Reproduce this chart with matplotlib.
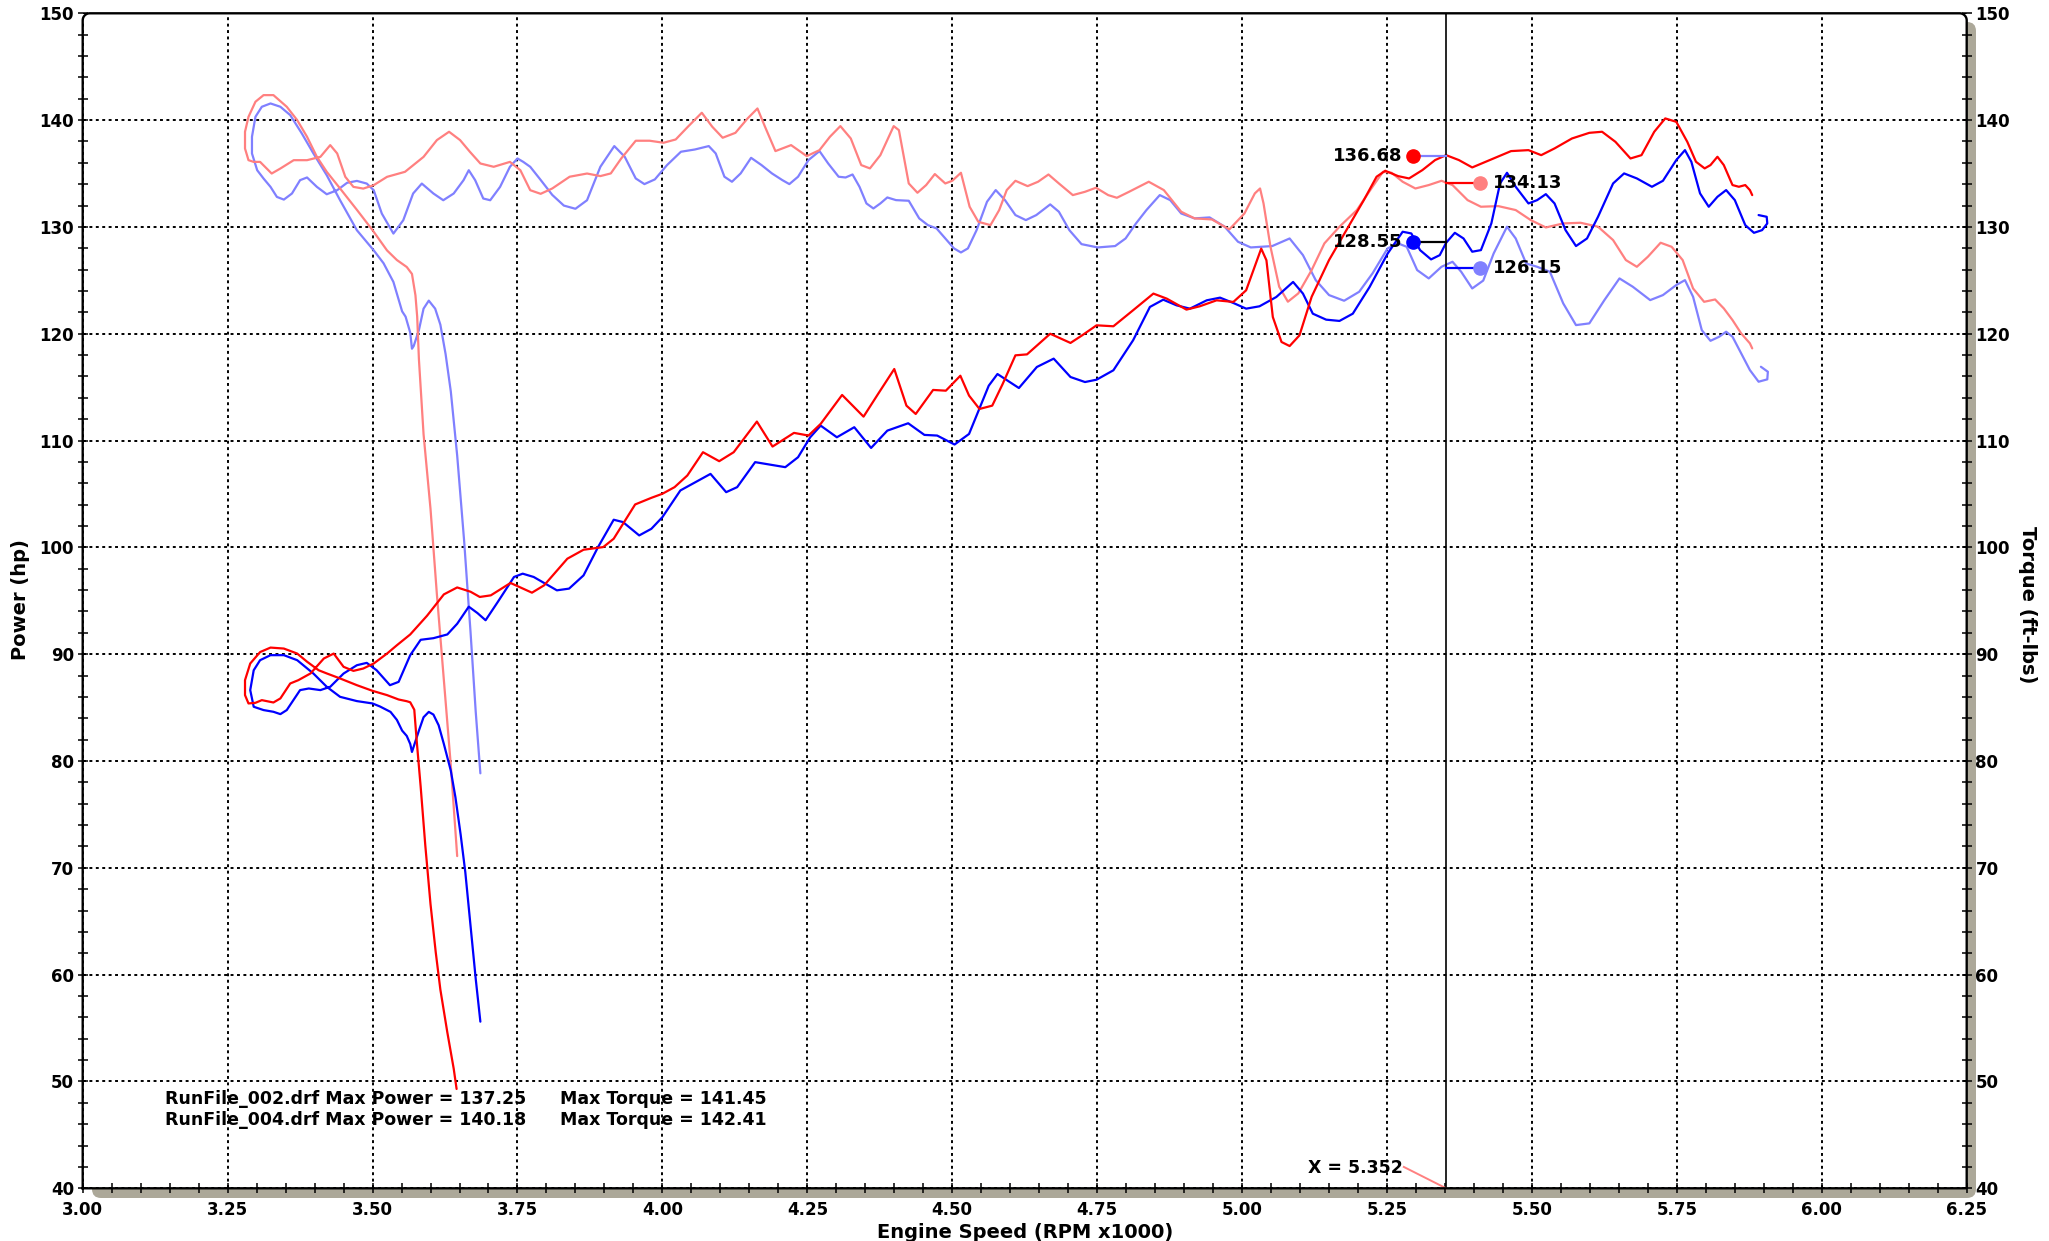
import numpy as np
import matplotlib
matplotlib.use("Agg")
import matplotlib.pyplot as plt
from matplotlib.ticker import MultipleLocator, FormatStrFormatter
from matplotlib.patches import FancyBboxPatch
from matplotlib.lines import Line2D

plt.rcParams['font.family'] = ['DejaVu Sans']
plt.rcParams['font.weight'] = 'bold'

# RunFile_004 power (red)
p004_rpm = [3.645, 3.640, 3.629, 3.617, 3.609, 3.600, 3.591, 3.583, 3.576, 3.572, 3.565, 3.559, 3.545, 3.525,
            3.500, 3.473, 3.444, 3.421, 3.407, 3.387, 3.370, 3.347, 3.324, 3.306, 3.289, 3.280, 3.280, 3.286,
            3.298, 3.309, 3.329, 3.341, 3.358, 3.372, 3.393, 3.416, 3.433, 3.450, 3.467, 3.484, 3.502, 3.525,
            3.542, 3.565, 3.594, 3.623, 3.646, 3.669, 3.685, 3.704, 3.738, 3.775, 3.796, 3.836, 3.864, 3.898,
            3.916, 3.953, 3.981, 4.000, 4.021, 4.043, 4.070, 4.098, 4.123, 4.163, 4.190, 4.227, 4.252, 4.273,
            4.310, 4.347, 4.372, 4.400, 4.421, 4.437, 4.467, 4.489, 4.514, 4.529, 4.547, 4.569, 4.587, 4.609,
            4.629, 4.669, 4.704, 4.724, 4.749, 4.778, 4.812, 4.847, 4.870, 4.904, 4.927, 4.956, 4.985, 5.007,
            5.033, 5.042, 5.053, 5.068, 5.082, 5.099, 5.120, 5.150, 5.180, 5.210, 5.232, 5.247, 5.269, 5.288,
            5.311, 5.333, 5.352, 5.374, 5.397, 5.427, 5.464, 5.494, 5.516, 5.539, 5.569, 5.599, 5.621, 5.644,
            5.670, 5.689, 5.711, 5.730, 5.749, 5.768, 5.783, 5.798, 5.808, 5.820, 5.831, 5.846, 5.857, 5.868,
            5.876, 5.880]
p004_hp = [49.3, 51.2, 54.6, 58.6, 62.1, 66.6, 72.1, 77.6, 82.0, 84.8, 85.5, 85.6, 85.76, 86.17,
           86.57, 87.10, 87.73, 88.20, 88.50, 89.30, 90.06, 90.53, 90.62, 90.20, 89.13, 87.57, 86.17, 85.39,
           85.45, 85.70, 85.48, 85.86, 87.26, 87.57, 88.20, 89.60, 90.06, 88.82, 88.44, 88.66, 89.13, 90.06,
           90.84, 91.85, 93.60, 95.60, 96.25, 95.85, 95.36, 95.51, 96.67, 95.76, 96.45, 98.94, 99.78, 100.03,
           100.81, 104.02, 104.64, 105.02, 105.64, 106.73, 108.91, 108.07, 108.91, 111.78, 109.44, 110.72, 110.47, 111.56,
           114.27, 112.24, 114.36, 116.70, 113.27, 112.49, 114.74, 114.67, 116.07, 114.21, 112.96, 113.27, 115.30, 117.98,
           118.07, 120.00, 119.14, 119.85, 120.79, 120.70, 122.20, 123.76, 123.29, 122.26, 122.57, 123.13, 122.98, 124.07,
           127.97, 126.88, 121.57, 119.23, 118.85, 119.85, 123.46, 126.90, 129.70, 132.51, 134.70, 135.26, 134.76, 134.54,
           135.32, 136.26, 136.72, 136.26, 135.57, 136.26, 137.10, 137.19, 136.72, 137.35, 138.28, 138.81, 138.91, 137.97,
           136.41, 136.72, 138.91, 140.16, 139.84, 137.97, 136.10, 135.48, 135.79, 136.57, 135.79, 133.92, 133.76, 133.92,
           133.45, 132.98]

# RunFile_002 power (blue)
p002_rpm = [3.686, 3.678, 3.669, 3.660, 3.652, 3.643, 3.635, 3.623, 3.614, 3.605, 3.597, 3.588, 3.580, 3.571,
            3.568, 3.565, 3.559, 3.551, 3.542, 3.531, 3.513, 3.500, 3.473, 3.444, 3.421, 3.398, 3.370, 3.347,
            3.324, 3.306, 3.295, 3.289, 3.295, 3.312, 3.329, 3.341, 3.352, 3.375, 3.390, 3.410, 3.427, 3.450,
            3.473, 3.490, 3.507, 3.530, 3.545, 3.565, 3.583, 3.605, 3.629, 3.646, 3.666, 3.681, 3.695, 3.716,
            3.744, 3.759, 3.778, 3.818, 3.839, 3.864, 3.889, 3.916, 3.932, 3.960, 3.981, 4.000, 4.031, 4.062,
            4.083, 4.110, 4.129, 4.160, 4.184, 4.212, 4.234, 4.255, 4.273, 4.301, 4.331, 4.360, 4.388, 4.424,
            4.452, 4.474, 4.504, 4.529, 4.563, 4.578, 4.615, 4.646, 4.675, 4.704, 4.729, 4.749, 4.778, 4.812,
            4.841, 4.864, 4.887, 4.910, 4.939, 4.962, 4.985, 5.007, 5.030, 5.059, 5.088, 5.105, 5.122, 5.145,
            5.168, 5.191, 5.220, 5.251, 5.277, 5.292, 5.307, 5.326, 5.341, 5.352, 5.367, 5.382, 5.397, 5.412,
            5.430, 5.445, 5.457, 5.472, 5.494, 5.509, 5.524, 5.539, 5.558, 5.576, 5.595, 5.614, 5.640, 5.659,
            5.681, 5.707, 5.726, 5.749, 5.764, 5.775, 5.790, 5.805, 5.820, 5.835, 5.850, 5.868, 5.883, 5.897,
            5.906, 5.905, 5.891]
p002_hp = [55.6, 59.6, 64.6, 69.6, 73.1, 76.6, 79.1, 81.6, 83.35, 84.35, 84.6, 84.1, 82.85, 81.35,
           80.85, 81.6, 82.35, 82.85, 83.85, 84.6, 85.1, 85.39, 85.61, 86.01, 86.95, 88.19, 89.44, 89.91,
           89.91, 89.44, 88.50, 86.64, 85.08, 84.77, 84.61, 84.39, 84.77, 86.64, 86.79, 86.64, 86.95, 88.19,
           88.97, 89.19, 88.50, 87.10, 87.41, 89.91, 91.35, 91.50, 91.85, 92.85, 94.45, 93.85, 93.18, 94.89,
           97.23, 97.54, 97.23, 95.98, 96.14, 97.38, 100.03, 102.59, 102.37, 101.12, 101.74, 102.83, 105.33, 106.26,
           106.88, 105.17, 105.64, 107.98, 107.76, 107.51, 108.44, 110.31, 111.40, 110.31, 111.25, 109.31, 110.93, 111.62,
           110.53, 110.47, 109.63, 110.62, 115.14, 116.23, 114.92, 116.89, 117.67, 115.95, 115.48, 115.70, 116.58, 119.39,
           122.51, 123.19, 122.66, 122.35, 123.13, 123.38, 122.88, 122.35, 122.57, 123.44, 124.85, 123.76, 121.88, 121.32,
           121.20, 121.88, 124.38, 127.50, 129.55, 129.39, 127.83, 126.96, 127.36, 128.52, 129.45, 128.92, 127.68, 127.83,
           130.33, 134.07, 135.07, 133.76, 132.20, 132.51, 133.07, 132.20, 129.70, 128.21, 128.92, 130.95, 134.07, 135.01,
           134.54, 133.76, 134.32, 136.26, 137.19, 136.10, 133.14, 131.89, 132.82, 133.45, 132.51, 130.17, 129.45, 129.70,
           130.33, 130.95, 131.11]

# RunFile_004 torque (light red)
t004_rpm = [3.646, 3.635, 3.623, 3.611, 3.600, 3.588, 3.580, 3.577, 3.574, 3.568, 3.559, 3.542, 3.525, 3.500,
            3.473, 3.444, 3.421, 3.404, 3.387, 3.370, 3.352, 3.329, 3.312, 3.298, 3.286, 3.280, 3.280, 3.286,
            3.295, 3.306, 3.326, 3.341, 3.364, 3.387, 3.410, 3.427, 3.439, 3.453, 3.467, 3.484, 3.502, 3.525,
            3.556, 3.588, 3.611, 3.632, 3.651, 3.668, 3.686, 3.709, 3.737, 3.755, 3.772, 3.790, 3.810, 3.840,
            3.870, 3.893, 3.911, 3.929, 3.954, 3.978, 4.002, 4.023, 4.044, 4.068, 4.086, 4.104, 4.126, 4.147,
            4.164, 4.177, 4.195, 4.222, 4.249, 4.271, 4.289, 4.307, 4.325, 4.343, 4.358, 4.376, 4.399, 4.408,
            4.425, 4.440, 4.455, 4.470, 4.488, 4.500, 4.515, 4.530, 4.545, 4.566, 4.581, 4.594, 4.609, 4.630,
            4.648, 4.666, 4.684, 4.708, 4.729, 4.748, 4.769, 4.784, 4.805, 4.839, 4.865, 4.895, 4.918, 4.948,
            4.978, 5.004, 5.022, 5.031, 5.037, 5.049, 5.064, 5.079, 5.097, 5.120, 5.142, 5.168, 5.198, 5.225,
            5.243, 5.258, 5.277, 5.299, 5.322, 5.344, 5.363, 5.389, 5.412, 5.442, 5.472, 5.498, 5.524, 5.554,
            5.584, 5.614, 5.640, 5.662, 5.681, 5.700, 5.722, 5.741, 5.760, 5.778, 5.797, 5.816, 5.831, 5.846,
            5.861, 5.876, 5.880]
t004_tq = [71.1, 79.6, 87.6, 95.6, 103.6, 110.6, 117.6, 121.6, 123.6, 125.6, 126.25, 126.9, 127.8, 129.7,
           131.6, 133.6, 135.16, 136.56, 138.44, 140.0, 141.25, 142.34, 142.34, 141.72, 140.31, 138.91, 137.34, 136.25,
           136.09, 136.09, 135.0, 135.47, 136.25, 136.25, 136.56, 137.66, 136.88, 134.69, 133.75, 133.59, 133.91, 134.69,
           135.16, 136.56, 138.13, 138.91, 138.13, 137.03, 135.94, 135.63, 136.09, 135.31, 133.44, 133.10, 133.60, 134.70,
           135.00, 134.76, 135.01, 136.41, 138.07, 138.07, 137.88, 138.19, 139.38, 140.69, 139.38, 138.35, 138.81, 140.16,
           141.09, 139.38, 137.10, 137.66, 136.63, 137.19, 138.44, 139.44, 138.28, 135.79, 135.48, 136.72, 139.44, 139.06,
           134.07, 133.20, 133.92, 134.95, 134.07, 134.32, 135.07, 131.89, 130.48, 130.17, 131.58, 133.45, 134.32, 133.82,
           134.23, 134.91, 134.07, 132.98, 133.29, 133.67, 132.98, 132.73, 133.29, 134.23, 133.45, 131.42, 130.80, 130.70,
           129.77, 131.26, 133.14, 133.60, 132.20, 128.14, 124.40, 123.00, 123.78, 125.96, 128.46, 130.02, 131.58, 133.76,
           135.16, 135.07, 134.23, 133.60, 133.92, 134.32, 133.92, 132.51, 131.89, 131.95, 131.58, 130.64, 129.95, 130.33,
           130.39, 130.02, 128.77, 126.90, 126.27, 127.21, 128.52, 128.14, 126.90, 124.24, 122.99, 123.21, 122.37, 121.28,
           120.03, 119.10, 118.63]

# RunFile_002 torque (light blue)
t002_rpm = [3.686, 3.678, 3.669, 3.658, 3.646, 3.635, 3.626, 3.617, 3.608, 3.597, 3.588, 3.580, 3.571, 3.568,
            3.565, 3.557, 3.551, 3.536, 3.519, 3.502, 3.473, 3.444, 3.421, 3.398, 3.378, 3.358, 3.341, 3.324,
            3.309, 3.298, 3.292, 3.292, 3.301, 3.312, 3.324, 3.335, 3.347, 3.361, 3.375, 3.387, 3.404, 3.421,
            3.439, 3.456, 3.473, 3.490, 3.502, 3.516, 3.536, 3.553, 3.570, 3.585, 3.605, 3.622, 3.640, 3.657,
            3.666, 3.677, 3.691, 3.703, 3.720, 3.737, 3.750, 3.760, 3.772, 3.790, 3.810, 3.830, 3.850, 3.870,
            3.893, 3.917, 3.935, 3.954, 3.969, 3.987, 4.008, 4.032, 4.056, 4.080, 4.092, 4.107, 4.120, 4.135,
            4.153, 4.171, 4.189, 4.207, 4.219, 4.234, 4.252, 4.271, 4.286, 4.304, 4.316, 4.328, 4.340, 4.352,
            4.364, 4.376, 4.388, 4.403, 4.425, 4.443, 4.458, 4.473, 4.488, 4.503, 4.515, 4.527, 4.542, 4.560,
            4.575, 4.591, 4.609, 4.627, 4.645, 4.669, 4.684, 4.702, 4.723, 4.751, 4.781, 4.799, 4.817, 4.835,
            4.858, 4.876, 4.895, 4.918, 4.944, 4.970, 4.993, 5.015, 5.052, 5.082, 5.105, 5.127, 5.150, 5.176,
            5.202, 5.225, 5.251, 5.269, 5.284, 5.302, 5.322, 5.344, 5.363, 5.378, 5.397, 5.416, 5.434, 5.457,
            5.472, 5.490, 5.509, 5.531, 5.554, 5.576, 5.599, 5.625, 5.651, 5.674, 5.704, 5.726, 5.749, 5.764,
            5.778, 5.793, 5.808, 5.823, 5.835, 5.846, 5.861, 5.876, 5.891, 5.906, 5.907, 5.895]
t002_tq = [78.85, 84.6, 92.1, 100.6, 108.6, 114.6, 118.1, 120.85, 122.35, 123.1, 122.35, 120.35, 118.85, 118.6,
           120.1, 121.6, 122.1, 124.85, 126.6, 127.81, 129.69, 132.5, 134.84, 136.88, 138.75, 140.47, 141.25, 141.56,
           141.25, 140.31, 138.44, 136.88, 135.31, 134.53, 133.75, 132.81, 132.56, 133.13, 134.38, 134.63, 133.75, 133.06,
           133.44, 134.13, 134.31, 134.06, 133.44, 131.25, 129.38, 130.63, 133.13, 134.06, 133.13, 132.50, 133.13, 134.38,
           135.31, 134.38, 132.66, 132.50, 133.75, 135.63, 136.41, 136.09, 135.63, 134.40, 133.00, 132.00, 131.70, 132.50,
           135.63, 137.57, 136.57, 134.54, 134.01, 134.45, 135.79, 137.04, 137.25, 137.57, 136.88, 134.70, 134.23, 135.01,
           136.47, 135.79, 135.01, 134.38, 134.01, 134.70, 136.26, 137.10, 135.94, 134.70, 134.63, 134.91, 133.76, 132.20,
           131.73, 132.20, 132.76, 132.51, 132.45, 130.80, 130.17, 129.86, 128.92, 127.99, 127.61, 127.99, 129.70, 132.36,
           133.45, 132.51, 131.11, 130.64, 131.11, 132.11, 131.42, 129.70, 128.39, 128.08, 128.21, 128.92, 130.33, 131.58,
           132.98, 132.51, 131.26, 130.80, 130.89, 130.02, 128.61, 128.08, 128.21, 128.92, 127.36, 125.02, 123.62, 123.09,
           123.93, 125.65, 127.99, 128.46, 128.14, 125.96, 125.18, 126.27, 126.74, 125.80, 124.24, 124.98, 127.52, 130.02,
           128.92, 126.58, 126.27, 125.80, 122.84, 120.81, 120.97, 123.15, 125.18, 124.40, 123.15, 123.62, 124.56, 125.02,
           123.46, 120.34, 119.34, 119.72, 120.19, 119.72, 118.16, 116.60, 115.51, 115.73, 116.44, 116.91]

cursor_x = 5.352
cursor_vals = [136.68, 134.13, 128.55, 126.15]
summary_lines = ["RunFile_002.drf Max Power = 137.25", "RunFile_004.drf Max Power = 140.18"]
summary_torque = ["Max Torque = 141.45", "Max Torque = 142.41"]

RED = '#ff0000'
BLUE = '#0000ff'
LRED = '#ff8080'
LBLUE = '#8080ff'

W, H = 2049, 1241
fig = plt.figure(figsize=(W / 100, H / 100), dpi=100)
fig.patch.set_facecolor('white')

# axes box in pixels
L, R, T, B = 82.7, 1966.7, 13.3, 1188.3
ax = fig.add_axes([L / W, (H - B) / H, (R - L) / W, (B - T) / H])
ax.set_zorder(1)

# gray drop shadow right / bottom
shadow = FancyBboxPatch((92, H - 1198), 1976 - 92, 1198 - 22,
                        boxstyle="round,pad=0,rounding_size=9",
                        transform=None, facecolor='#aca899', edgecolor='none', zorder=0)
fig.add_artist(shadow)

ax.set_xlim(3.0, 6.25)
ax.set_ylim(40, 150)

for s in ax.spines.values():
    s.set_visible(False)

# frame with rounded top corners
rx = 7 / (R - L)
ry = 7 / (B - T)
ang = np.linspace(np.pi, np.pi / 2, 12)
fx = [0, 0] + list(rx + rx * np.cos(ang))
fy = [0, 1 - ry] + list(1 - ry + ry * np.sin(ang))
ang2 = np.linspace(np.pi / 2, 0, 12)
fx += list(1 - rx + rx * np.cos(ang2)) + [1, 0]
fy += list(1 - ry + ry * np.sin(ang2)) + [0, 0]
ax.add_line(Line2D(fx, fy, transform=ax.transAxes, color='black', lw=1.7,
                   clip_on=False, zorder=5))

ax.xaxis.set_major_locator(MultipleLocator(0.25))
ax.xaxis.set_minor_locator(MultipleLocator(0.05))
ax.yaxis.set_major_locator(MultipleLocator(10))
ax.yaxis.set_minor_locator(MultipleLocator(2))
ax.xaxis.set_major_formatter(FormatStrFormatter('%.2f'))
ax.yaxis.set_major_formatter(FormatStrFormatter('%d'))

ax.tick_params(axis='both', which='both', direction='inout', length=6.5, width=1.1, color='black')
ax.tick_params(axis='x', which='both', bottom=True, top=False, pad=6)
ax.tick_params(axis='y', which='both', left=True, right=True, labelleft=True, labelright=True, pad=3)
ax.tick_params(axis='both', labelsize=12)
for lab in ax.get_xticklabels() + ax.get_yticklabels():
    lab.set_fontweight('bold')

ax.grid(True, which='major', color='black', linestyle=(0, (1.5, 1.8)), lw=1.4)
ax.set_axisbelow(True)

style = dict(lw=1.6, solid_joinstyle='round', solid_capstyle='round')
ax.plot(t002_rpm, t002_tq, color=LBLUE, zorder=2, **style)
ax.plot(t004_rpm, t004_tq, color=LRED, zorder=2, **style)
ax.plot(p002_rpm, p002_hp, color=BLUE, zorder=3, **style)
ax.plot(p004_rpm, p004_hp, color=RED, zorder=3, **style)

# cursor
ax.axvline(cursor_x, color='black', lw=1.2, zorder=4)
left_x, right_x = 5.295, 5.41
conn = [(LBLUE, RED, left_x), (RED, LRED, right_x), ('black', BLUE, left_x), (BLUE, LBLUE, right_x)]
for val, (lc, mc, mx) in zip(cursor_vals, conn):
    ax.plot([mx, cursor_x], [val, val], color=lc, lw=1.6, zorder=4)
    ax.plot(mx, val, 'o', color=mc, ms=9.5, zorder=6)
    if mx < cursor_x:
        ax.text(5.276, val, f"{val:.2f}", ha='right', va='center', fontsize=13,
                fontweight='bold', zorder=7)
    else:
        ax.text(5.433, val, f"{val:.2f}", ha='left', va='center', fontsize=13,
                fontweight='bold', zorder=7)

ax.text(5.277, 41.9, f"X = {cursor_x:.3f}", ha='right', va='center', fontsize=12.5, fontweight='bold')
ax.plot([5.279, cursor_x], [42.0, 40.0], color=LRED, lw=1.4, clip_on=False, zorder=4)

for i, (a, b) in enumerate(zip(summary_lines, summary_torque)):
    yy = 48.33 - i * 1.97
    ax.text(3.142, yy, a, ha='left', va='center', fontsize=12.5, fontweight='bold')
    ax.text(3.823, yy, b, ha='left', va='center', fontsize=12.5, fontweight='bold')

fig.text(21 / W, 1 - 600 / H, "Power (hp)", rotation=90, ha='center', va='center',
         fontsize=14, fontweight='bold')
fig.text(2027 / W, 1 - 605 / H, "Torque (ft-lbs)", rotation=270, ha='center', va='center',
         fontsize=14, fontweight='bold')
fig.text(1025 / W, 1 - 1223 / H, "Engine Speed (RPM x1000)", ha='center', va='top',
         fontsize=14, fontweight='bold')

fig.savefig("out.png", dpi=100)
